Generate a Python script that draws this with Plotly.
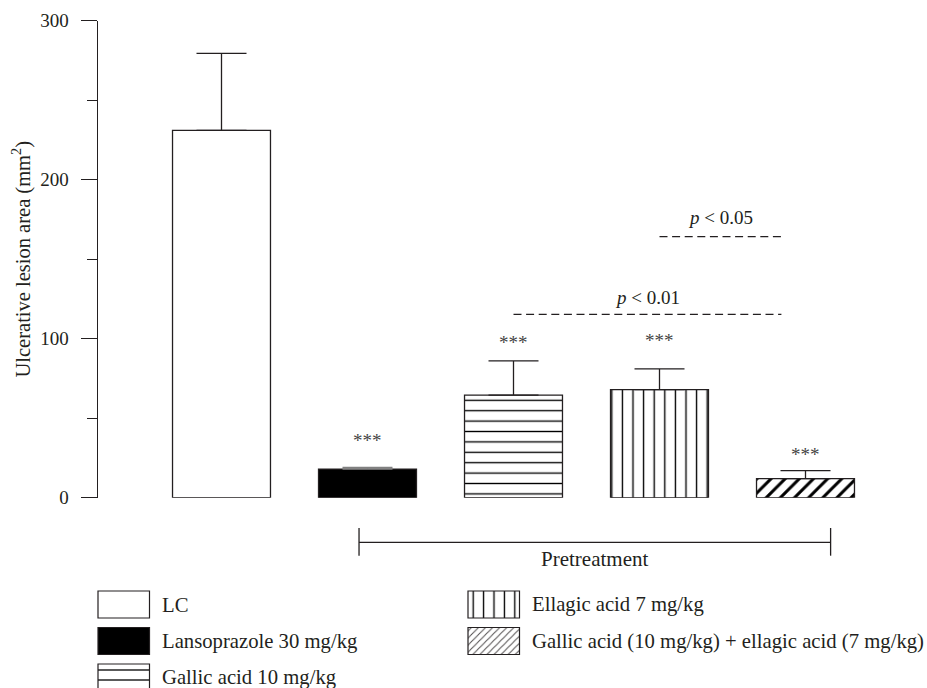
import plotly.graph_objects as go

# ---------------- data ----------------
groups = ["LC", "Lansoprazole 30 mg/kg", "Gallic acid 10 mg/kg",
          "Ellagic acid 7 mg/kg", "Gallic acid (10 mg/kg) + ellagic acid (7 mg/kg)"]
means = [231, 18, 64.5, 68, 12]
sem = [48.5, 1, 21.5, 13, 5]
stars = ["", "***", "***", "***", "***"]
y_ticks = [0, 100, 200, 300]
y_minor = [50, 150, 250]
comparisons = [  # (from group, to group, label, level)
    (2, 4, "<i>p</i> < 0.01", 115.3),
    (3, 4, "<i>p</i> < 0.05", 164.2),
]
bracket_label = "Pretreatment"
y_title = "Ulcerative lesion area (mm<sup>2</sup>)"

# ---------------- styles ----------------
W, H = 927, 688
INK = "#231f20"
FONT = "Liberation Serif"
FS = 19
fills = ["white", "black", "white", "white", "white"]
patterns = [
    dict(shape=""),
    dict(shape=""),
    dict(shape="-", fgcolor="black", bgcolor="white", size=10.4, solidity=0.13, fgopacity=1),
    dict(shape="|", fgcolor="black", bgcolor="white", size=10.6, solidity=0.13, fgopacity=1),
    dict(shape="/", fgcolor="black", bgcolor="white", size=10, solidity=0.3, fgopacity=1),
]
legend_patterns = [
    dict(shape=""),
    dict(shape=""),
    dict(shape="-", fgcolor="black", bgcolor="white", size=10, solidity=0.13, fgopacity=1),
    dict(shape="|", fgcolor="black", bgcolor="white", size=10.4, solidity=0.13, fgopacity=1),
    dict(shape="/", fgcolor=INK, bgcolor="white", size=5, solidity=0.2, fgopacity=0.8),
]
err_colors = [INK, "#808080", INK, INK, INK]
star_shift = [0, 14, 6, 16, 4]   # px above error top
p_shift = [4, 7]

def px(x):
    return x / W

def py(y):
    return 1 - y / H

fig = go.Figure()

n = len(groups)
for i in range(n):
    fig.add_trace(go.Bar(
        x=[i], y=[means[i]], width=0.671,
        marker=dict(color=fills[i], line=dict(color=INK, width=1.3), pattern=patterns[i]),
        error_y=dict(type="data", symmetric=False, array=[sem[i]], arrayminus=[0],
                     color=err_colors[i], thickness=1.3, width=25),
        showlegend=False, hoverinfo="skip", xaxis="x", yaxis="y",
    ))

# stars
for i in range(n):
    if stars[i]:
        fig.add_annotation(x=i, y=means[i] + sem[i], xref="x", yref="y", text=stars[i],
                           showarrow=False, yanchor="bottom", yshift=star_shift[i],
                           font=dict(family=FONT, size=FS, color="#444"))

# comparison lines
end_offset = 0.165
for k, (a, b, lab, lev) in enumerate(comparisons):
    fig.add_shape(type="line", xref="x", yref="y", x0=a, x1=b - end_offset, y0=lev, y1=lev,
                  line=dict(color=INK, width=1.1, dash="8px,4.6px"))
    fig.add_annotation(x=(a + b - end_offset) / 2, y=lev,
                       xref="x", yref="y", text=lab, showarrow=False, yanchor="bottom",
                       yshift=p_shift[k], font=dict(family=FONT, size=FS, color=INK))

# Pretreatment bracket (spans the treated groups)
bx0, bx1 = 0.942, 4.172
yb, yt0, yt1 = py(542.3), py(528), py(555.7)
fig.add_shape(type="line", xref="x", yref="paper", x0=bx0, x1=bx1, y0=yb, y1=yb,
              line=dict(color=INK, width=1.3))
for bx in (bx0, bx1):
    fig.add_shape(type="line", xref="x", yref="paper", x0=bx, x1=bx, y0=yt0, y1=yt1,
                  line=dict(color=INK, width=1.3))
fig.add_annotation(x=(bx0 + bx1) / 2, y=py(559), xref="x", yref="paper", text=bracket_label,
                   showarrow=False, yanchor="middle", font=dict(family=FONT, size=21, color=INK))

# custom legend drawn on a hidden pixel-unit axis pair
col_x = [98, 468]
row_top = 591
row_pitch = 36.5
sw_w, sw_h = 51.5, 27
positions = [(0, 0), (0, 1), (0, 2), (1, 0), (1, 1)]
for i, (c, r) in enumerate(positions):
    x0 = col_x[c]
    y0 = row_top + r * row_pitch
    fig.add_trace(go.Bar(
        x=[x0 + sw_w / 2], y=[sw_h], base=[y0], width=sw_w,
        marker=dict(color=fills[i], line=dict(color=INK, width=1.2), pattern=legend_patterns[i]),
        showlegend=False, hoverinfo="skip", xaxis="x2", yaxis="y2",
    ))
    fig.add_annotation(x=x0 + 61.5, y=y0 + sw_h / 2, xref="x2", yref="y2", text=groups[i],
                       showarrow=False, xanchor="left", yanchor="middle",
                       font=dict(family=FONT, size=20.7, color=INK))

x0_px, xend_px = 97.7, 880
c0, step = 221.5, 146
fig.update_layout(
    width=W, height=H, margin=dict(l=0, r=0, t=0, b=0, autoexpand=False),
    paper_bgcolor="white", plot_bgcolor="white", barmode="overlay", autosize=False,
    font=dict(family=FONT, size=FS, color=INK),
    xaxis=dict(domain=[px(x0_px), px(xend_px)],
               range=[(x0_px - c0) / step, (xend_px - c0) / step],
               visible=False, fixedrange=True),
    yaxis=dict(domain=[py(497.7), py(20.7)], range=[0, 300], tickvals=y_ticks,
               ticks="outside", ticklen=16, tickwidth=1.3, tickcolor=INK,
               showline=True, linecolor=INK, linewidth=1.3, showgrid=False, zeroline=False,
               ticklabelstandoff=8, automargin=False,
               minor=dict(tickvals=y_minor, ticks="outside", ticklen=10, tickwidth=1.3,
                          tickcolor=INK, showgrid=False),
               title=dict(text=y_title, standoff=4, font=dict(family=FONT, size=20.5, color=INK)),
               tickfont=dict(family=FONT, size=FS, color=INK)),
    xaxis2=dict(domain=[0, 1], range=[0, W], visible=False, anchor="y2"),
    yaxis2=dict(domain=[0, py(505)], range=[H, 505], visible=False, anchor="x2"),
)

fig.write_html("out.html", config={"displayModeBar": False},
               post_script="document.body.style.margin='0';")
